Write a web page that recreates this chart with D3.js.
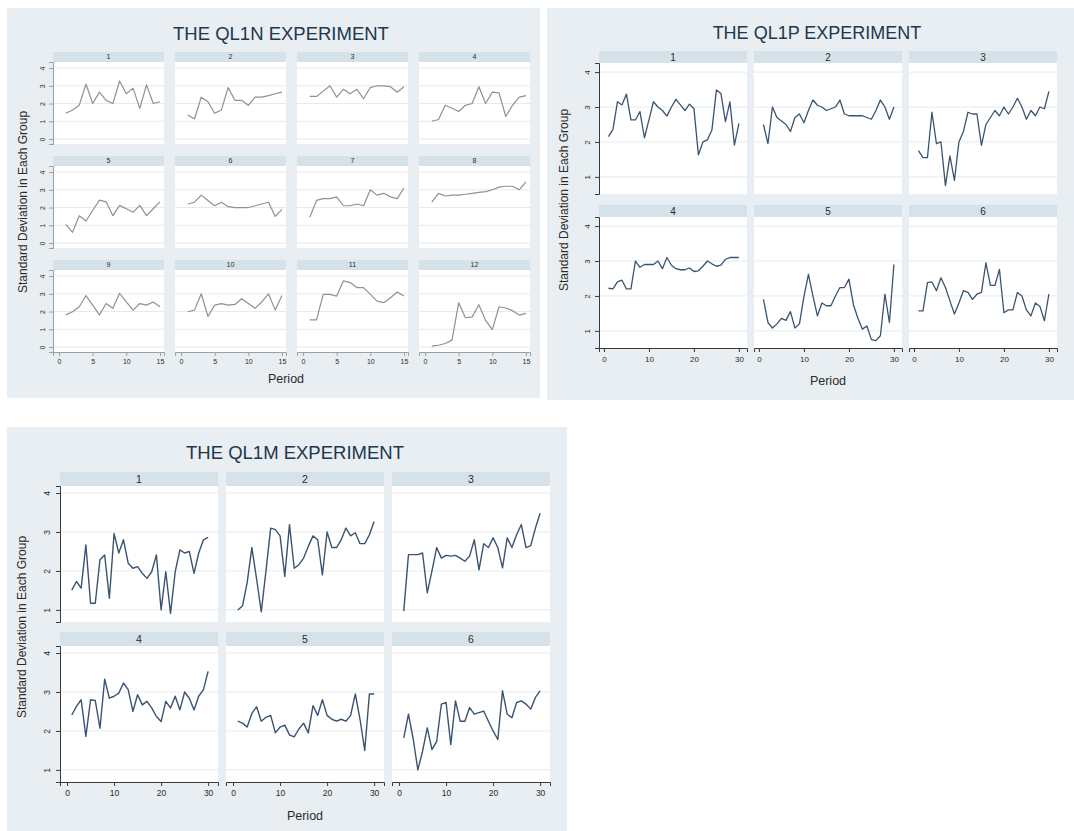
<!DOCTYPE html>
<html><head><meta charset="utf-8">
<script src="https://cdn.jsdelivr.net/npm/d3@7"></script>
<style>
html,body{margin:0;padding:0;background:#ffffff;}
svg{display:block;font-family:"Liberation Sans",Arial,Helvetica,sans-serif;}
</style></head><body>
<svg id="chart" width="1074" height="831"></svg>
<script>
// ---- data ----
const periods15 = d3.range(1, 16);
const periods30 = d3.range(1, 31);

const ql1nGroups = ["1","2","3","4","5","6","7","8","9","10","11","12"];
const ql1nSeries = [
  [1.45,1.64,1.9,3.1,2.0,2.64,2.18,2.0,3.27,2.55,2.87,1.73,3.05,2.0,2.1],
  [1.36,1.13,2.36,2.1,1.45,1.64,2.9,2.18,2.18,1.9,2.36,2.36,2.45,2.55,2.64],
  [2.4,2.4,2.7,3.0,2.36,2.8,2.55,2.8,2.27,2.9,3.0,3.0,2.95,2.64,2.95],
  [1.0,1.1,1.9,1.73,1.55,1.9,2.0,2.95,2.0,2.64,2.6,1.27,1.9,2.36,2.45],
  [1.05,0.6,1.54,1.24,1.83,2.42,2.32,1.54,2.12,1.93,1.73,2.12,1.54,1.93,2.32],
  [2.2,2.3,2.7,2.4,2.1,2.3,2.05,2.0,2.0,2.0,2.1,2.2,2.3,1.5,1.9],
  [1.45,2.4,2.5,2.5,2.6,2.1,2.1,2.2,2.1,3.0,2.7,2.8,2.6,2.5,3.1],
  [2.3,2.8,2.65,2.7,2.7,2.75,2.8,2.85,2.9,3.0,3.15,3.2,3.2,3.0,3.45],
  [1.81,1.99,2.27,2.9,2.36,1.81,2.45,2.18,3.03,2.54,2.08,2.45,2.36,2.54,2.27],
  [1.99,2.08,3.0,1.72,2.36,2.45,2.36,2.4,2.72,2.45,2.18,2.54,3.0,2.08,2.9],
  [1.53,1.53,2.97,2.97,2.87,3.73,3.63,3.35,3.35,2.97,2.59,2.5,2.78,3.1,2.87],
  [0.05,0.1,0.2,0.39,2.49,1.65,1.7,2.38,1.5,0.98,2.27,2.2,2.05,1.8,1.9]
];
const ql1nYTicks = [0, 1, 2, 3, 4];
const ql1nXTicks = [0, 5, 10, 15];

const ql1pGroups = ["1","2","3","4","5","6"];
const ql1pSeries = [
  [2.15,2.36,3.15,3.06,3.37,2.63,2.63,2.87,2.12,2.63,3.15,3.0,2.9,2.74,3.0,3.22,3.06,2.9,3.08,2.96,1.63,2.0,2.06,2.34,3.49,3.39,2.58,3.15,1.91,2.53],
  [2.5,1.95,3.0,2.7,2.6,2.5,2.3,2.7,2.8,2.55,2.9,3.2,3.05,3.0,2.9,2.95,3.0,3.2,2.8,2.75,2.75,2.75,2.75,2.7,2.65,2.9,3.2,3.0,2.65,3.0],
  [1.75,1.55,1.55,2.85,1.95,2.0,0.75,1.6,0.9,2.0,2.3,2.85,2.8,2.8,1.9,2.5,2.7,2.9,2.75,3.0,2.8,3.0,3.25,3.0,2.65,2.9,2.75,3.0,2.95,3.45],
  [2.22,2.2,2.4,2.45,2.2,2.2,3.0,2.82,2.9,2.9,2.9,3.0,2.78,3.1,2.88,2.78,2.75,2.75,2.8,2.7,2.72,2.85,3.0,2.92,2.85,2.88,3.05,3.1,3.1,3.1],
  [1.9,1.24,1.08,1.2,1.36,1.3,1.55,1.08,1.2,1.98,2.62,2.0,1.43,1.8,1.72,1.72,2.0,2.24,2.24,2.48,1.75,1.36,1.05,1.14,0.75,0.72,0.86,2.05,1.24,2.9],
  [1.57,1.57,2.38,2.4,2.15,2.52,2.24,1.86,1.48,1.8,2.15,2.1,1.9,2.05,2.1,2.95,2.3,2.3,2.76,1.52,1.6,1.6,2.1,2.0,1.6,1.43,1.8,1.7,1.29,2.05]
];

const ql1mGroups = ["1","2","3","4","5","6"];
const ql1mSeries = [
  [1.51,1.73,1.56,2.67,1.17,1.17,2.29,2.41,1.3,2.96,2.46,2.8,2.2,2.07,2.11,1.94,1.81,1.98,2.41,1.0,1.98,0.91,1.98,2.54,2.46,2.5,1.94,2.46,2.8,2.86],
  [1.0,1.1,1.7,2.6,1.8,0.95,2.0,3.1,3.06,2.9,1.86,3.19,2.07,2.16,2.33,2.63,2.9,2.8,1.9,3.0,2.6,2.6,2.8,3.1,2.9,2.98,2.7,2.7,2.93,3.27],
  [0.97,2.42,2.42,2.42,2.46,1.44,2.0,2.6,2.33,2.4,2.38,2.4,2.33,2.25,2.38,2.8,2.03,2.7,2.6,2.85,2.6,2.08,2.85,2.6,2.93,3.19,2.6,2.65,3.1,3.48],
  [2.41,2.63,2.8,1.86,2.8,2.78,2.07,3.33,2.84,2.89,2.97,3.23,3.06,2.5,2.93,2.67,2.76,2.59,2.37,2.24,2.76,2.59,2.89,2.54,3.0,2.84,2.54,2.89,3.06,3.53],
  [2.25,2.2,2.1,2.45,2.62,2.25,2.35,2.4,1.95,2.1,2.15,1.9,1.85,2.05,2.2,1.95,2.65,2.4,2.8,2.4,2.3,2.25,2.3,2.25,2.4,2.95,2.3,1.5,2.95,2.95],
  [1.82,2.43,1.8,1.0,1.48,2.08,1.52,1.73,2.69,2.73,1.65,2.77,2.25,2.25,2.6,2.43,2.47,2.51,2.25,2.0,1.78,3.03,2.43,2.34,2.73,2.77,2.69,2.56,2.86,3.03]
];
const sdYTicks = [1, 2, 3, 4];
const periodXTicks = [0, 10, 20, 30];

// ---- drawing ----
const svg = d3.select("#chart");

const colors = {
  box: "#e8eef1",
  strip: "#d5e2e9",
  plot: "#ffffff",
  grid: "#e6eaec",
  text: "#2b2b2b",
  title: "#22374d"
};

function drawExperiment(cfg) {
  const g = svg.append("g");

  g.append("rect")
    .attr("x", cfg.box[0]).attr("y", cfg.box[1])
    .attr("width", cfg.box[2]).attr("height", cfg.box[3])
    .attr("fill", colors.box);

  g.append("text")
    .attr("x", cfg.titleX).attr("y", cfg.titleY)
    .attr("text-anchor", "middle")
    .attr("font-size", cfg.titleFont).attr("fill", colors.title)
    .text(cfg.title);

  const x = d3.scaleLinear().domain(cfg.xDomain).range([0, cfg.colW]);
  const y = d3.scaleLinear().domain(cfg.yDomain).range([cfg.plotH, 0]);

  const line = d3.line()
    .x((d, i) => x(cfg.periods[i]))
    .y(d => y(d));

  const lastRow = Math.floor((cfg.groups.length - 1) / cfg.cols.length);

  cfg.groups.forEach((name, k) => {
    const r = Math.floor(k / cfg.cols.length);
    const c = k % cfg.cols.length;
    const left = cfg.cols[c];
    const stripTop = cfg.rows[r];
    const top = stripTop + cfg.stripH;

    g.append("rect")
      .attr("x", left).attr("y", stripTop)
      .attr("width", cfg.colW).attr("height", cfg.stripH)
      .attr("fill", colors.strip);
    g.append("text")
      .attr("x", left + cfg.colW / 2).attr("y", stripTop + cfg.stripH / 2)
      .attr("dy", "0.35em")
      .attr("text-anchor", "middle")
      .attr("font-size", cfg.stripFont).attr("fill", colors.text)
      .text(name);

    const pg = g.append("g").attr("transform", `translate(${left},${top})`);
    pg.append("rect")
      .attr("width", cfg.colW).attr("height", cfg.plotH)
      .attr("fill", colors.plot);

    pg.selectAll("line.grid")
      .data(cfg.yTicks)
      .join("line")
      .attr("class", "grid")
      .attr("x1", 0).attr("x2", cfg.colW)
      .attr("y1", d => y(d)).attr("y2", d => y(d))
      .attr("stroke", colors.grid).attr("stroke-width", 1);

    pg.append("path")
      .datum(cfg.series[k])
      .attr("d", line)
      .attr("fill", "none")
      .attr("stroke", cfg.lineColor)
      .attr("stroke-width", cfg.lineWidth)
      .attr("stroke-linejoin", "round");

    // left axis on the first column of each row
    if (c === 0) {
      const ya = pg.append("g")
        .call(d3.axisLeft(y).tickValues(cfg.yTicks).tickSize(4).tickFormat(d3.format("d")));
      ya.select(".domain").attr("stroke", cfg.axisColor);
      ya.selectAll(".tick line").attr("stroke", cfg.axisColor);
      ya.selectAll(".tick text")
        .attr("font-size", cfg.tickFont).attr("fill", colors.text)
        .attr("font-family", null)
        .attr("transform", "rotate(-90)")
        .attr("x", 0).attr("y", -cfg.yLabelGap)
        .attr("dy", 0)
        .attr("text-anchor", "middle");
    }

    // bottom axis on the last row of each column
    if (r === lastRow) {
      const xa = pg.append("g")
        .attr("transform", `translate(0,${cfg.plotH})`)
        .call(d3.axisBottom(x).tickValues(cfg.xTicks).tickSize(4).tickFormat(d3.format("d")));
      xa.select(".domain").attr("stroke", cfg.axisColor);
      xa.selectAll(".tick line").attr("stroke", cfg.axisColor);
      xa.selectAll(".tick text")
        .attr("font-size", cfg.tickFont).attr("fill", colors.text)
        .attr("font-family", null)
        .attr("y", cfg.xLabelGap).attr("dy", "0.71em");
    }
  });

  g.append("text")
    .attr("transform", `translate(${cfg.yTitleX},${cfg.yTitleY}) rotate(-90)`)
    .attr("text-anchor", "middle")
    .attr("font-size", 12).attr("fill", colors.text)
    .text("Standard Deviation in Each Group");

  g.append("text")
    .attr("x", cfg.xTitleX).attr("y", cfg.xTitleY)
    .attr("text-anchor", "middle")
    .attr("font-size", 12.5).attr("fill", colors.text)
    .text("Period");
}

drawExperiment({
  title: "THE QL1N EXPERIMENT",
  box: [7, 8, 533, 390],
  titleX: 281, titleY: 40, titleFont: 18.5,
  cols: [53, 175, 297, 419], colW: 111,
  rows: [52, 156, 260], stripH: 10, plotH: 82,
  groups: ql1nGroups, series: ql1nSeries, periods: periods15,
  xDomain: [-0.9, 15.6], yDomain: [-0.28, 4.34],
  xTicks: ql1nXTicks, yTicks: ql1nYTicks,
  lineColor: "#8b9298", lineWidth: 1.2, axisColor: "#9aa0a4",
  stripFont: 7, tickFont: 7, yLabelGap: 8, xLabelGap: 7,
  yTitleX: 27, yTitleY: 202, xTitleX: 286, xTitleY: 383
});

drawExperiment({
  title: "THE QL1P EXPERIMENT",
  box: [547, 8, 527, 392],
  titleX: 817, titleY: 39, titleFont: 18,
  cols: [599, 754, 909], colW: 148,
  rows: [51, 205], stripH: 12, plotH: 131,
  groups: ql1pGroups, series: ql1pSeries, periods: periods30,
  xDomain: [-1.1, 31.8], yDomain: [0.51, 4.26],
  xTicks: periodXTicks, yTicks: sdYTicks,
  lineColor: "#3a5470", lineWidth: 1.3, axisColor: "#3a3a3a",
  stripFont: 10, tickFont: 8, yLabelGap: 9, xLabelGap: 8,
  yTitleX: 568, yTitleY: 200, xTitleX: 828, xTitleY: 385
});

drawExperiment({
  title: "THE QL1M EXPERIMENT",
  box: [7, 427, 560, 404],
  titleX: 295, titleY: 459, titleFont: 18.5,
  cols: [60, 226, 392], colW: 158,
  rows: [472, 632], stripH: 14, plotH: 136,
  groups: ql1mGroups, series: ql1mSeries, periods: periods30,
  xDomain: [-1.5, 32.1], yDomain: [0.69, 4.18],
  xTicks: periodXTicks, yTicks: sdYTicks,
  lineColor: "#3a5470", lineWidth: 1.4, axisColor: "#3a3a3a",
  stripFont: 10.5, tickFont: 8.5, yLabelGap: 10, xLabelGap: 8,
  yTitleX: 26, yTitleY: 627, xTitleX: 305, xTitleY: 820
});
</script>
</body></html>
